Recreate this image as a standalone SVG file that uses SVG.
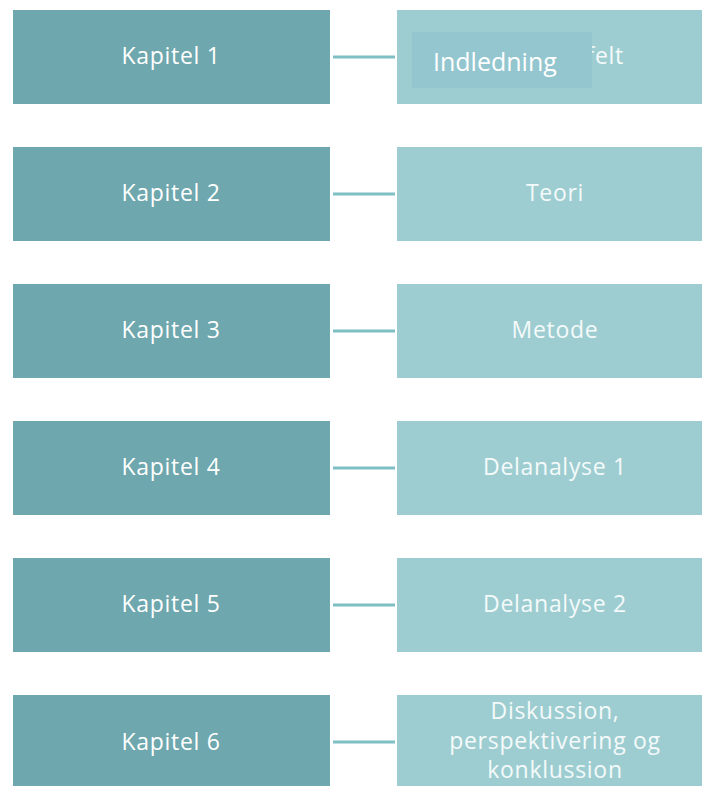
<svg xmlns="http://www.w3.org/2000/svg" width="702" height="786" viewBox="0 0 702 786">
<style>
.l{fill:#6ea7ad}
.r{fill:#9ecdd1}
.t{font-family:"Open Sans","Noto Sans",sans-serif;font-size:23px;letter-spacing:0.7px;font-weight:500;fill:#ffffff;text-anchor:middle}
.tr{fill:#f4fafa}
.c{stroke:#7dbfc3;stroke-width:3;fill:none}
</style>
<rect width="702" height="786" fill="#ffffff"/>
<g id="connectors">
<line class="c" x1="333" y1="57" x2="395" y2="57"/>
<line class="c" x1="333" y1="194" x2="395" y2="194"/>
<line class="c" x1="333" y1="331" x2="395" y2="331"/>
<line class="c" x1="333" y1="468" x2="395" y2="468"/>
<line class="c" x1="333" y1="605" x2="395" y2="605"/>
<line class="c" x1="333" y1="742" x2="395" y2="742"/>
</g>
<g id="k1"><rect class="l" x="13" y="10" width="317" height="94"/><text class="t" x="171" y="64">Kapitel 1</text></g>
<g id="k2"><rect class="l" x="13" y="147" width="317" height="94"/><text class="t" x="171" y="201">Kapitel 2</text></g>
<g id="k3"><rect class="l" x="13" y="284" width="317" height="94"/><text class="t" x="171" y="338">Kapitel 3</text></g>
<g id="k4"><rect class="l" x="13" y="421" width="317" height="94"/><text class="t" x="171" y="475">Kapitel 4</text></g>
<g id="k5"><rect class="l" x="13" y="558" width="317" height="94"/><text class="t" x="171" y="612">Kapitel 5</text></g>
<g id="k6"><rect class="l" x="13" y="695" width="317" height="94"/><text class="t" x="171" y="750">Kapitel 6</text></g>
<g id="r1"><rect class="r" x="397" y="10" width="310" height="94"/><text class="t tr" x="624" y="64" style="text-anchor:end">felt</text></g>
<g id="overlay"><rect x="412" y="32" width="180" height="56" fill="#93c6ce"/><text x="433" y="71" style="font-family:'Open Sans','Noto Sans',sans-serif;font-size:25px;fill:#ffffff">Indledning</text></g>
<g id="r2"><rect class="r" x="397" y="147" width="310" height="94"/><text class="t tr" x="555" y="201">Teori</text></g>
<g id="r3"><rect class="r" x="397" y="284" width="310" height="94"/><text class="t tr" x="555" y="338">Metode</text></g>
<g id="r4"><rect class="r" x="397" y="421" width="310" height="94"/><text class="t tr" x="555" y="475">Delanalyse 1</text></g>
<g id="r5"><rect class="r" x="397" y="558" width="310" height="94"/><text class="t tr" x="555" y="612">Delanalyse 2</text></g>
<g id="r6"><rect class="r" x="397" y="695" width="310" height="94"/><text class="t tr" x="555" y="719">Diskussion,</text><text class="t tr" x="555" y="749">perspektivering og</text><text class="t tr" x="555" y="778">konklussion</text></g>
</svg>
